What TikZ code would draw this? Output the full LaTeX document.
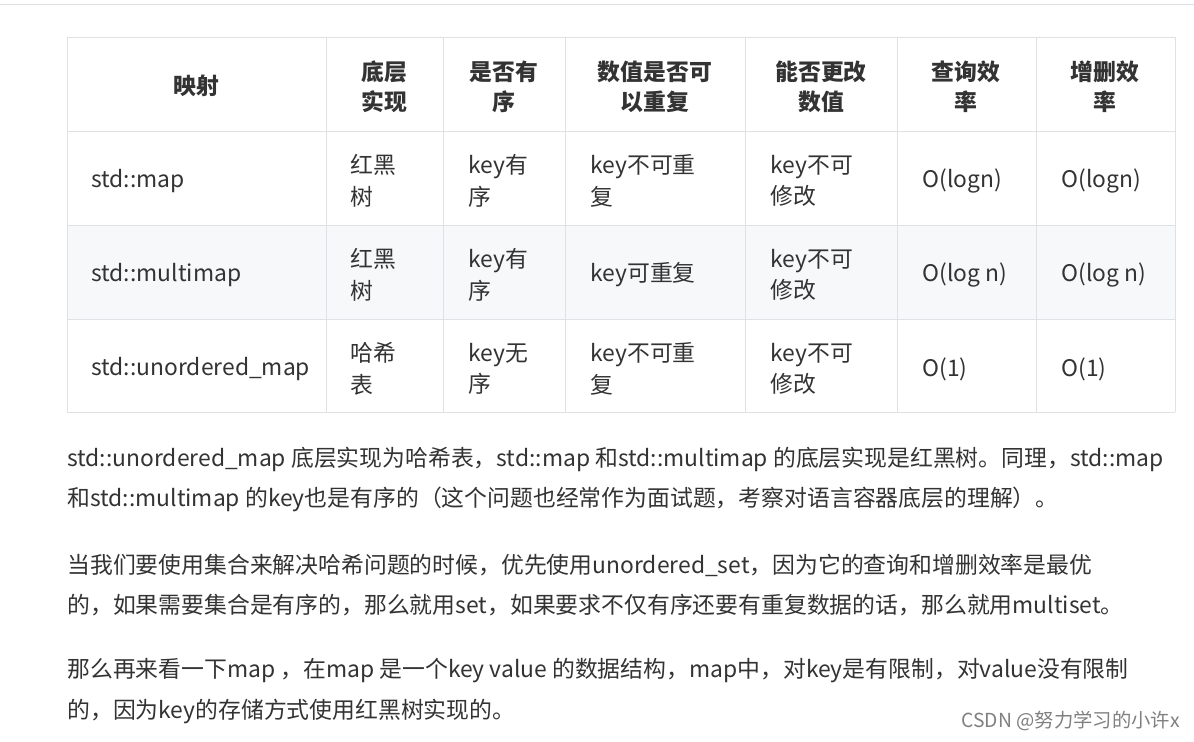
\documentclass[tikz,border=0pt]{standalone}
\usepackage{fontspec}
\setmainfont{Noto Sans CJK SC}
\usetikzlibrary{positioning}
\definecolor{txt}{HTML}{333333}
\definecolor{grid}{HTML}{DFE2E5}
\definecolor{rowshade}{HTML}{F6F8FA}

\begin{document}
\begin{tikzpicture}
    [
        x=0.02cm, y=-0.02cm,
        head/.style={font=\fontsize{13}{17}\bfseries\selectfont, text=txt, align=center, inner sep=0pt},
        cell/.style={font=\fontsize{13}{18}\selectfont, text=txt, align=left, anchor=west, inner sep=0pt},
        para/.style={font=\fontsize{13}{22.7}\selectfont, text=txt, align=left, anchor=west, inner sep=0pt}
    ]
    \useasboundingbox[fill=white] (0,0) rectangle (1194,741);
    \draw[grid] (0,4) -- (1194,4);

    % table
    \fill[rowshade] (67,225) rectangle (1175,319);
    \foreach \y in {37,131,225,319,412} \draw[grid] (67,\y) -- (1175,\y);
    \foreach \x in {67,326,443,565,745,897,1036,1175} \draw[grid] (\x,37) -- (\x,412);

    \node[head] (h1) at (196,86) {映射};
    \node[head] (h2) at (384,87) {底层\\实现};
    \node[head] (h3) at (504,87) {是否有\\序};
    \node[head] (h4) at (655,87) {数值是否可\\以重复};
    \node[head] (h5) at (821,87) {能否更改\\数值};
    \node[head] (h6) at (966,87) {查询效\\率};
    \node[head] (h7) at (1105,87) {增删效\\率};

    \foreach \r/\y/\a/\b/\c/\d/\e/\f/\g in {
        1/181/std::map/红黑\\树/key有\\序/key不可重\\复/key不可\\修改/O(logn)/O(logn),
        2/275/std::multimap/红黑\\树/key有\\序/key可重复/key不可\\修改/O(log n)/O(log n),
        3/369/std::unordered\_map/哈希\\表/key无\\序/key不可重\\复/key不可\\修改/O(1)/O(1)}
    {
        \node[cell] (c\r a) at (91,\y) {\a};
        \node[cell] (c\r b) at (350,\y) {\b};
        \node[cell] (c\r c) at (468,\y) {\c};
        \node[cell] (c\r d) at (590,\y) {\d};
        \node[cell] (c\r e) at (770,\y) {\e};
        \node[cell] (c\r f) at (922,\y) {\f};
        \node[cell] (c\r g) at (1061,\y) {\g};
    }

    % text below
    \node[para] (p1a) at (67,459) {std::unordered\_map 底层实现为哈希表，std::map 和std::multimap 的底层实现是红黑树。同理，std::map};
    \node[para] (p1b) at (67,499) {和std::multimap 的key也是有序的（这个问题也经常作为面试题，考察对语言容器底层的理解）。};
    \node[para] (p2a) at (67,565) {当我们要使用集合来解决哈希问题的时候，优先使用unordered\_set，因为它的查询和增删效率是最优};
    \node[para] (p2b) at (67,605) {的，如果需要集合是有序的，那么就用set，如果要求不仅有序还要有重复数据的话，那么就用multiset。};
    \node[para] (p3a) at (67,671) {那么再来看一下map ，在map 是一个key value 的数据结构，map中，对key是有限制，对value没有限制};
    \node[para] (p3b) at (67,711) {的，因为key的存储方式使用红黑树实现的。};
    \node[anchor=east, inner sep=0pt, text=gray, font=\fontsize{11}{13}\selectfont] (mark) at (1180,721) {CSDN @努力学习的小许x};
\end{tikzpicture}
\end{document}
